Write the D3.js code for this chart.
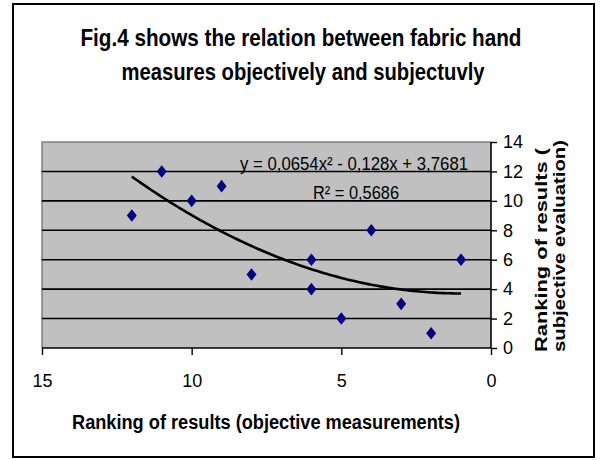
<!DOCTYPE html>
<html>
<head>
<meta charset="utf-8">
<script src="https://cdn.jsdelivr.net/npm/d3@7"></script>
<style>
  html, body { margin: 0; padding: 0; background: #fff; }
  svg { display: block; }
  text { font-family: "Liberation Sans", Arial, sans-serif; }
</style>
</head>
<body>
<svg id="chart" width="601" height="460"></svg>
<script>
// ---- data ----
const objectiveRank = [12, 11, 10, 9, 8, 6, 6, 5, 4, 3, 2, 1];
const subjectiveRank = [9, 12, 10, 11, 5, 6, 4, 2, 8, 3, 1, 6];
const xTicks = [15, 10, 5, 0];
const yTicks = [0, 2, 4, 6, 8, 10, 12, 14];
const gridValues = [2, 4, 6, 8, 10, 12];
// polynomial trendline coefficients shown on the chart: c0 + c1*x + c2*x^2
const trendCoef = [3.7681, -0.128, 0.0654];
const trendRange = [1, 12];
const titleLines = ["Fig.4 shows the relation between fabric hand", "measures objectively and subjectuvly"];
const xTitle = "Ranking of results (objective measurements)";
const yTitleLines = ["Ranking of results (", "subjective evaluation)"];
const eqText = "y = 0,0654x\u00B2 - 0,128x + 3,7681";
const r2Text = "R\u00B2 = 0,5686";

const svg = d3.select("#chart");

// outer frame
svg.append("rect").attr("x", 13).attr("y", 4).attr("width", 581).attr("height", 453)
  .attr("fill", "#fff").attr("stroke", "#000").attr("stroke-width", 2);

const plot = {left: 42, right: 491, top: 142, bottom: 348};
const x = d3.scaleLinear().domain([15, 0]).range([plot.left, plot.right]);
const y = d3.scaleLinear().domain([0, 14]).range([plot.bottom, plot.top]);

// plot area
svg.append("rect").attr("x", plot.left).attr("y", plot.top)
  .attr("width", plot.right - plot.left).attr("height", plot.bottom - plot.top)
  .attr("fill", "#c0c0c0");
svg.append("path")
  .attr("d", `M${plot.left},${plot.bottom}V${plot.top}H${plot.right}`)
  .attr("fill", "none").attr("stroke", "#808080").attr("stroke-width", 1.5);

// gridlines
svg.append("g").selectAll("line").data(gridValues).join("line")
  .attr("x1", plot.left).attr("x2", plot.right)
  .attr("y1", d => y(d)).attr("y2", d => y(d))
  .attr("stroke", "#000").attr("stroke-width", 1.6);

// axes
const xAxis = svg.append("g").attr("transform", `translate(0,${plot.bottom})`)
  .call(d3.axisBottom(x).tickValues(xTicks).tickSize(7).tickPadding(19).tickFormat(d3.format("d")));
const yAxis = svg.append("g").attr("transform", `translate(${plot.right},0)`)
  .call(d3.axisRight(y).tickValues(yTicks).tickSize(6).tickPadding(6).tickFormat(d3.format("d")));
[xAxis, yAxis].forEach(g => {
  g.select(".domain").attr("stroke", "#000").attr("stroke-width", 1.6);
  g.selectAll(".tick line").attr("stroke", "#000").attr("stroke-width", 1.4);
  g.selectAll(".tick text").attr("fill", "#000").attr("font-size", 18)
    .attr("font-family", "'Liberation Sans', Arial, sans-serif");
});
yAxis.select(".domain").attr("d", `M0,${plot.top}V${plot.bottom}`);
xAxis.select(".domain").attr("d", `M${plot.left},0H${plot.right}`);

// trendline
const trendPts = d3.range(trendRange[0], trendRange[1] + 0.001, 0.1)
  .map(v => [v, trendCoef[0] + trendCoef[1] * v + trendCoef[2] * v * v]);
svg.append("path").datum(trendPts)
  .attr("d", d3.line().x(d => x(d[0])).y(d => y(d[1])))
  .attr("fill", "none").attr("stroke", "#000").attr("stroke-width", 2.6)
  .attr("stroke-linejoin", "round");

// markers (diamonds)
const dw = 5, dh = 6.3;
svg.append("g").selectAll("path").data(objectiveRank.map((v, i) => [v, subjectiveRank[i]])).join("path")
  .attr("transform", d => `translate(${x(d[0])},${y(d[1])})`)
  .attr("d", `M0,${-dh}L${dw},0L0,${dh}L${-dw},0Z`)
  .attr("fill", "#000080");

// equation + R^2
svg.append("text").attr("x", 240).attr("y", 170).attr("font-size", 18.5)
  .attr("textLength", 228).attr("lengthAdjust", "spacingAndGlyphs").attr("fill", "#000")
  .text(eqText);
svg.append("text").attr("x", 313).attr("y", 199).attr("font-size", 18.5)
  .attr("textLength", 86).attr("lengthAdjust", "spacingAndGlyphs").attr("fill", "#000")
  .text(r2Text);

// title
const titleSpecs = [{cx: 301, y: 46, len: 441}, {cx: 303, y: 80, len: 363}];
svg.append("g").selectAll("text").data(titleLines).join("text")
  .attr("x", (d, i) => titleSpecs[i].cx).attr("y", (d, i) => titleSpecs[i].y)
  .attr("text-anchor", "middle").attr("font-size", 24).attr("font-weight", "bold")
  .attr("textLength", (d, i) => titleSpecs[i].len).attr("lengthAdjust", "spacingAndGlyphs")
  .text(d => d);

// x axis title
svg.append("text").attr("x", 72).attr("y", 429).attr("font-size", 19.5).attr("font-weight", "bold")
  .attr("textLength", 388).attr("lengthAdjust", "spacingAndGlyphs").text(xTitle);

// y axis title (rotated)
const ySpecs = [{bx: 547, len: 204}, {bx: 565, len: 212}];
svg.append("g").selectAll("text").data(yTitleLines).join("text")
  .attr("transform", (d, i) => `translate(${ySpecs[i].bx},352) rotate(-90)`)
  .attr("font-size", 17).attr("font-weight", "bold")
  .attr("textLength", (d, i) => ySpecs[i].len).attr("lengthAdjust", "spacingAndGlyphs")
  .text(d => d);
</script>
</body>
</html>
